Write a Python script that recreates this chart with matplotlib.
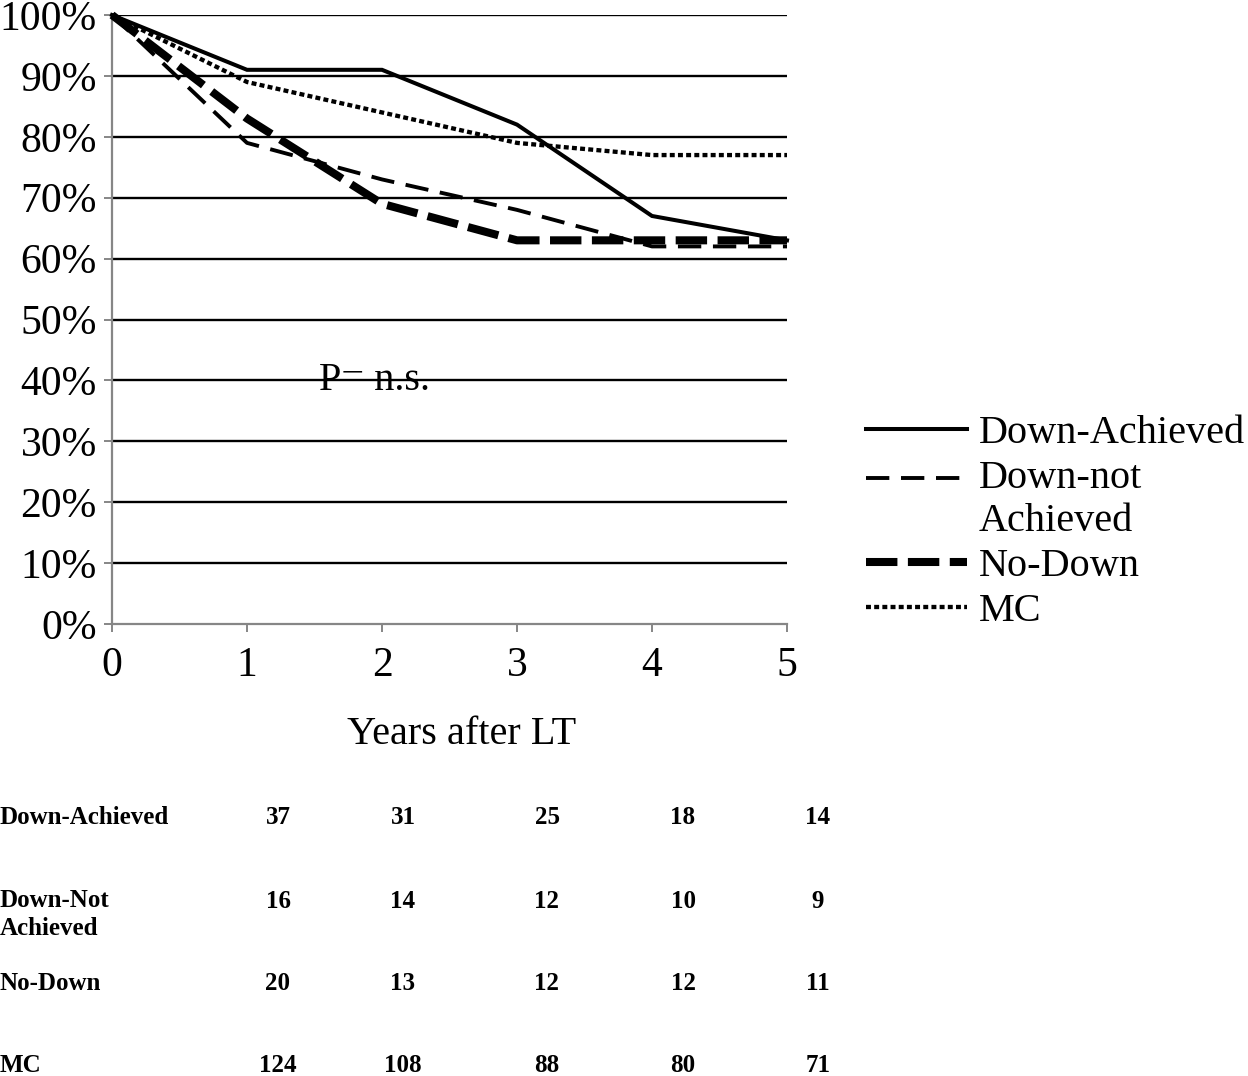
import matplotlib
matplotlib.use("Agg")
import matplotlib.pyplot as plt
import numpy as np
from matplotlib.legend_handler import HandlerLine2D
from matplotlib.lines import Line2D

plt.rcParams['font.family'] = ['Liberation Serif', 'DejaVu Serif']

years = [0, 1, 2, 3, 4, 5]
series_names = ["Down-Achieved", "Down-not\nAchieved", "No-Down", "MC"]
down_achieved = [100, 91, 91, 82, 67, 63]
down_not_achieved = [100, 79, 73, 68, 62, 62]
no_down = [100, 83, 69, 63, 63, 63]
mc = [100, 89, 84, 79, 77, 77]

y_ticks = list(range(0, 101, 10))
y_tick_labels = [f"{v}%" for v in y_ticks]
x_tick_labels = ["0", "1", "2", "3", "4", "5"]

table_rows = ["Down-Achieved", "Down-Not\nAchieved", "No-Down", "MC"]
n_down_achieved = [37, 31, 25, 18, 14]
n_down_not = [16, 14, 12, 10, 9]
n_no_down = [20, 13, 12, 12, 11]
n_mc = [124, 108, 88, 80, 71]


class ShiftedHandler(HandlerLine2D):
    def __init__(self, shift=0.0, **kw):
        super().__init__(**kw)
        self.shift = shift

    def create_artists(self, legend, orig_handle, xdescent, ydescent, width,
                       height, fontsize, trans):
        artists = super().create_artists(legend, orig_handle, xdescent,
                                         ydescent, width, height, fontsize,
                                         trans)
        for a in artists:
            if isinstance(a, Line2D):
                a.set_ydata(np.asarray(a.get_ydata()) + self.shift * fontsize)
        return artists


W, H = 1248, 1076
fig = plt.figure(figsize=(W / 100, H / 100), dpi=100)
ax = fig.add_axes([112 / W, 1 - 624 / H, (787 - 112) / W, (624 - 15) / H])

ax.set_xlim(0, 5)
ax.set_ylim(0, 100)

gray = "#868686"
for v in y_ticks[1:]:
    ax.axhline(v, color="black", lw=1.7, zorder=1)

l1, = ax.plot(years, down_achieved, color="black", lw=2.9, solid_joinstyle="miter",
              label=series_names[0], zorder=4, clip_on=False)
l2, = ax.plot(years, down_not_achieved, color="black", lw=2.8, dashes=(6.0, 3.0),
              dash_capstyle="butt", label=series_names[1], zorder=3, clip_on=False)
l3, = ax.plot(years, no_down, color="black", lw=5.8, dashes=(3.9, 1.3),
              dash_capstyle="butt", label=series_names[2], zorder=3, clip_on=False)
l4, = ax.plot(years, mc, color="black", lw=3.1, dashes=(1.15, 0.75),
              dash_capstyle="butt", label=series_names[3], zorder=3, clip_on=False)

for side in ["top", "right"]:
    ax.spines[side].set_visible(False)
for side in ["left", "bottom"]:
    ax.spines[side].set_color(gray)
    ax.spines[side].set_linewidth(1.6)

ax.set_yticks(y_ticks)
ax.set_yticklabels(y_tick_labels)
ax.set_xticks(years)
ax.set_xticklabels(x_tick_labels)
ax.tick_params(axis="y", length=6, width=1.4, color=gray, labelsize=30, pad=5)
ax.tick_params(axis="x", length=6, width=1.4, color=gray, labelsize=30, pad=10)

ax.text(1.53, 40, "P= n.s.", fontsize=29, va="center", ha="left", zorder=5)

ax.text((462 - 112) / 675, (624 - 735) / 609, "Years after LT", fontsize=29,
        ha="center", va="center", transform=ax.transAxes)

leg = fig.legend(handles=[l1, l2, l3, l4],
                 loc="upper left", bbox_to_anchor=(866 / W, 1 - 415 / H),
                 frameon=False, fontsize=29, handlelength=2.5,
                 handletextpad=0.3, labelspacing=0.2, borderpad=0,
                 borderaxespad=0,
                 handler_map={l2: ShiftedHandler(shift=0.55)})
for t in leg.get_texts():
    t.set_linespacing(1.2)

# Numbers-at-risk table
col_x = [278, 403, 547, 683, 818]
row_y = [818, 901, 984, 1066]
label_y = [818, 914.5, 984, 1066]
row_vals = [n_down_achieved, n_down_not, n_no_down, n_mc]
for lbl, ly, ry, vals in zip(table_rows, label_y, row_y, row_vals):
    fig.text(0 / W, 1 - ly / H, lbl, fontsize=18, fontweight="bold",
             ha="left", va="center", linespacing=1.25)
    for cx, v in zip(col_x, vals):
        fig.text(cx / W, 1 - ry / H, str(v), fontsize=18,
                 fontweight="bold", ha="center", va="center")

fig.savefig("out.png", dpi=100)
